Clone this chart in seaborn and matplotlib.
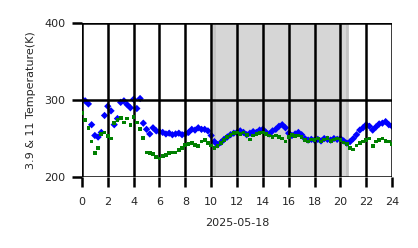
import numpy as np
import pandas as pd
import matplotlib
matplotlib.use("Agg")
import matplotlib.pyplot as plt
import seaborn as sns

hours = [i * 0.25 for i in range(97)]
temp_39 = [301, 299, 295, 268, 254, 252, 258, 280, 292, 286, 268, 276, 297, 299, 294, 290,
           301, 289, 302, 270, 262, 256, 264, 260, 259, 258, 256, 257, 255, 256, 257, 255,
           256, 258, 262, 261, 264, 262, 262, 260, 254, 246, 242, 245, 249, 252, 255, 257,
           258, 260, 258, 255, 257, 259, 258, 261, 262, 258, 256, 260, 262, 266, 268, 264,
           257, 254, 256, 258, 255, 250, 248, 249, 248, 249, 247, 250, 249, 248, 250, 249,
           250, 247, 244, 246, 250, 255, 261, 264, 268, 266, 261, 265, 269, 270, 272, 268, 266]
temp_11 = [283, 274, 264, 246, 231, 238, 256, 258, 253, 250, 270, 274, 277, 271, 276, 268,
           278, 271, 262, 251, 232, 231, 230, 226, 224, 227, 229, 231, 232, 232, 235, 238,
           242, 243, 244, 242, 240, 246, 248, 244, 241, 238, 240, 244, 248, 252, 255, 257,
           258, 256, 258, 255, 249, 254, 256, 257, 258, 256, 254, 252, 254, 252, 250, 246,
           252, 255, 253, 254, 252, 248, 246, 249, 248, 250, 246, 249, 251, 247, 249, 250,
           248, 245, 243, 238, 236, 241, 244, 246, 248, 250, 240, 246, 248, 250, 247, 246, 243]
shade_start, shade_end = 10.2, 20.5
xticks = list(range(0, 25, 2))
yticks = [200, 300, 400]

sns.set_theme(style="white")
plt.rcParams['font.family'] = ['DejaVu Sans']

df = pd.DataFrame({"hour": hours, "t39": temp_39, "t11": temp_11})

fig = plt.figure(figsize=(4.18, 2.48), dpi=100)
ax = fig.add_axes([0.196, 0.286, 0.742, 0.621])

ax.axvspan(shade_start, shade_end, facecolor="#d6d6d6", edgecolor="#c4c4c4", linewidth=2, zorder=0)

sns.scatterplot(data=df, x="hour", y="t39", marker="D", color="blue", s=14,
                edgecolor="none", ax=ax, zorder=2)
sns.scatterplot(data=df, x="hour", y="t11", marker="s", color="green", s=7,
                edgecolor="none", ax=ax, zorder=3)

ax.set_xlim(0, 24)
ax.set_ylim(200, 400)
ax.set_xticks(xticks)
ax.set_yticks(yticks)
ax.grid(True, color="black", linewidth=1.8, zorder=4)
ax.set_axisbelow(False)
for s in ax.spines.values():
    s.set_visible(False)
ax.tick_params(axis="both", direction="out", length=7, width=1.8, color="black",
               labelsize=8, bottom=True, left=True)
ax.tick_params(axis="x", pad=7)
ax.tick_params(axis="y", pad=5)
ax.set_xlabel("2025-05-18", fontsize=8, labelpad=8)
ax.set_ylabel("3.9 & 11 Temperature(K)", fontsize=8, labelpad=6)

fig.savefig("out.png", dpi=100)
